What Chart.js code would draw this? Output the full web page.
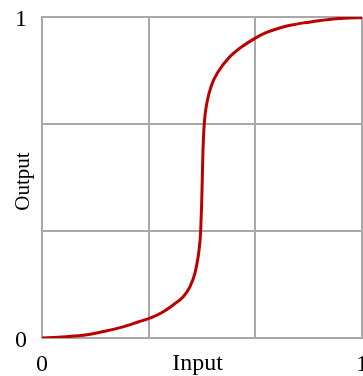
<!DOCTYPE html>
<html>
<head>
<meta charset="utf-8">
<script src="https://cdn.jsdelivr.net/npm/chart.js@4"></script>
<style>
  html, body { margin: 0; padding: 0; overflow: hidden; background: #fff; }
  #wrap { width: 370px; height: 376px; }
</style>
</head>
<body>
<div id="wrap"><canvas id="chart" width="370" height="376"></canvas></div>
<script>
// curve
var inputs  = [0, 0.05, 0.1, 0.15, 0.2, 0.25, 0.3, 0.343, 0.379, 0.41, 0.442, 0.4625, 0.478, 0.488, 0.494, 0.496, 0.499, 0.501, 0.503, 0.507, 0.515, 0.53, 0.551, 0.582, 0.624, 0.663, 0.7, 0.74, 0.78, 0.82, 0.87, 0.91, 0.96, 1];
var outputs = [0, 0.002, 0.006, 0.012, 0.022, 0.034, 0.05, 0.064, 0.082, 0.103, 0.129, 0.16, 0.202, 0.253, 0.305, 0.336, 0.42, 0.5, 0.58, 0.667, 0.731, 0.788, 0.83, 0.871, 0.907, 0.932, 0.951, 0.965, 0.975, 0.982, 0.989, 0.994, 0.997, 0.998];

var tickValues = [0, 1 / 3, 2 / 3, 1];
var tickLabels = ["0", "", "", "1"];

var xTitle = "Input";
var yTitle = "Output";

var gridColor = "#a8a8a8";
var serif = "'Liberation Serif', 'Times New Roman', serif";

function setTicks(scale) {
  scale.ticks = tickValues.map(function (v) { return { value: v }; });
}

function labelFor(value) {
  var i = tickValues.indexOf(value);
  return i >= 0 ? tickLabels[i] : "";
}

var axisTitles = {
  id: "axisTitles",
  afterDraw: function (chart) {
    var ctx = chart.ctx;
    var area = chart.chartArea;
    ctx.save();
    ctx.fillStyle = "#000";
    ctx.textAlign = "center";
    ctx.textBaseline = "alphabetic";
    ctx.font = "24px " + serif;
    ctx.fillText(xTitle, 197.5, 370);
    ctx.translate(29, (area.top + area.bottom) / 2 + 4);
    ctx.rotate(-Math.PI / 2);
    ctx.font = "21px " + serif;
    ctx.fillText(yTitle, 0, 0);
    ctx.restore();
  }
};

var points = inputs.map(function (x, i) { return { x: x, y: outputs[i] }; });

new Chart(document.getElementById("chart"), {
  type: "line",
  data: {
    datasets: [
      {
        data: points,
        borderColor: "#bb0000",
        borderWidth: 3,
        pointRadius: 0,
        cubicInterpolationMode: "monotone",
        fill: false,
      },
    ],
  },
  options: {
    responsive: false,
    animation: false,
    layout: { padding: { top: 17, right: 8, left: 0, bottom: 0 } },
    plugins: {
      legend: { display: false },
      tooltip: { enabled: false },
    },
    scales: {
      x: {
        type: "linear",
        min: 0,
        max: 1,
        afterBuildTicks: setTicks,
        afterFit: function (scale) {
          scale.height = 38;
          scale.paddingLeft = 0;
          scale.paddingRight = 0;
        },
        grid: { color: gridColor, lineWidth: 2, drawTicks: false },
        border: { color: gridColor, width: 2 },
        ticks: {
          padding: 12,
          maxRotation: 0,
          color: "#000",
          font: { family: serif, size: 24 },
          callback: labelFor,
        },
      },
      y: {
        type: "linear",
        min: 0,
        max: 1,
        afterBuildTicks: setTicks,
        afterFit: function (scale) {
          scale.width = 42;
          scale.paddingTop = 0;
          scale.paddingBottom = 0;
        },
        grid: { color: gridColor, lineWidth: 2, drawTicks: false },
        border: { color: gridColor, width: 2 },
        ticks: {
          padding: 15,
          labelOffset: 3,
          color: "#000",
          font: { family: serif, size: 24 },
          callback: labelFor,
        },
      },
    },
  },
  plugins: [axisTitles],
});
</script>
</body>
</html>
